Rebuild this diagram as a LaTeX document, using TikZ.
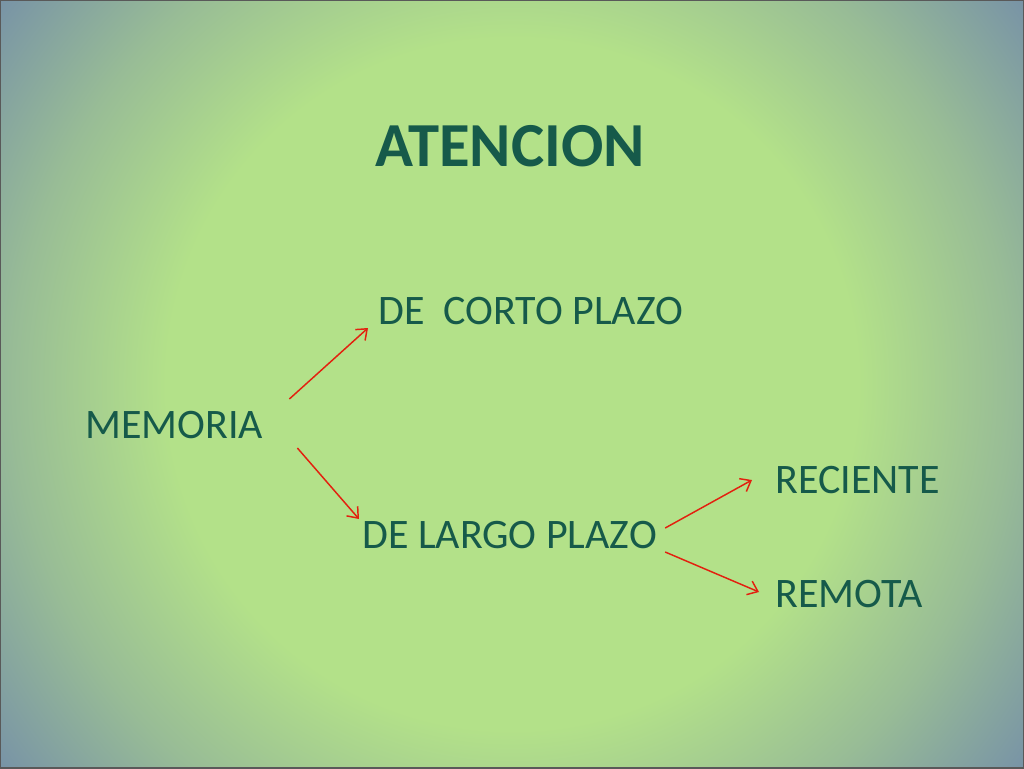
\documentclass[tikz,border=0pt]{standalone}
\usepackage{fontspec}
\setmainfont{Carlito}
\usetikzlibrary{arrows.meta}
\definecolor{cin}{HTML}{B3E189}
\definecolor{cmid}{HTML}{98BC96}
\definecolor{cout}{HTML}{7893A6}
\definecolor{txt}{HTML}{165A4A}
\definecolor{arr}{HTML}{E3200F}
\pgfdeclareradialshading{slidebg}{\pgfpoint{0bp}{0bp}}{color(0bp)=(cin); color(13.5bp)=(cin); color(19.5bp)=(cmid); color(25bp)=(cout); color(50bp)=(cout)}
\tikzset{
  lbl/.style={inner sep=0pt, text=txt, font=\fontsize{31.5}{38}\selectfont, anchor=base west},
  ttl/.style={inner sep=0pt, text=txt, font=\fontsize{47}{56}\selectfont\bfseries, anchor=base},
  redarrow/.style={draw=arr, line width=1.1pt, -{Straight Barb[length=7pt,width=11pt]}}
}
\begin{document}
\begin{tikzpicture}[x=0.75pt, y=-0.75pt]
\useasboundingbox (0,0) rectangle (1024,768);
\begin{scope}
  \clip (0,0) rectangle (1024,768);
  \shade[shading=slidebg] (-128,-256) rectangle (1152,1024);
\end{scope}
\draw[draw=black!65, line width=1pt] (0,0) rectangle (1024,768);
\node[ttl] (aten) at (510,166) {ATENCION};
\node[lbl] (corto) at (378,324) {DE\ \ CORTO PLAZO};
\node[lbl] (memoria) at (85,438) {MEMORIA};
\node[lbl] (largo) at (362,548) {DE LARGO PLAZO};
\node[lbl] (reciente) at (775,493) {RECIENTE};
\node[lbl] (remota) at (775,607) {REMOTA};
\draw[redarrow] ([shift={(26,-39)}]memoria.base east) -- ([shift={(-10,4)}]corto.base west);
\draw[redarrow] ([shift={(34,10)}]memoria.base east) -- ([shift={(-3,-29)}]largo.base west);
\draw[redarrow] ([shift={(8,-20)}]largo.base east) -- ([shift={(-23,-13)}]reciente.base west);
\draw[redarrow] ([shift={(8,4)}]largo.base east) -- ([shift={(-16,-15)}]remota.base west);
\end{tikzpicture}
\end{document}
